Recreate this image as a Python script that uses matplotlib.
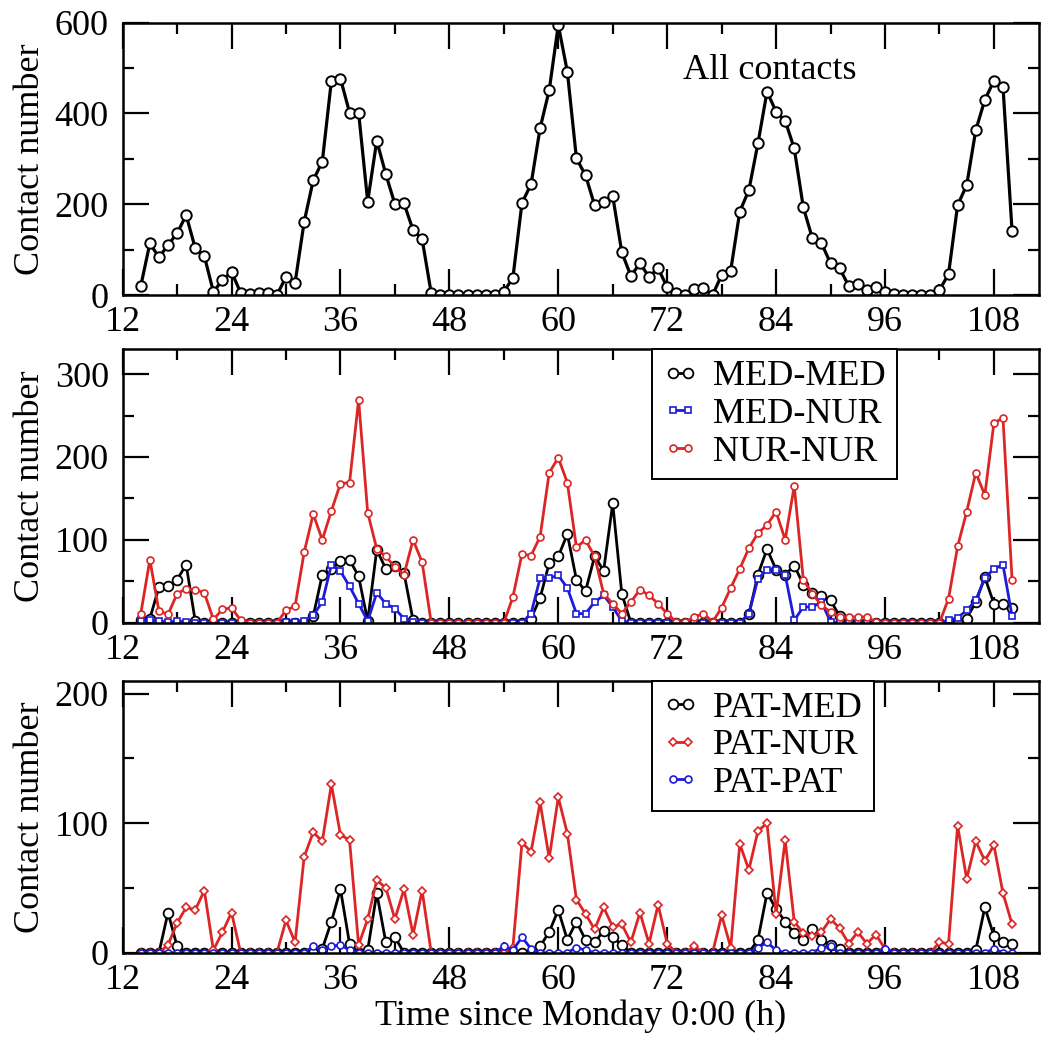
import matplotlib
matplotlib.use('Agg')
import matplotlib.pyplot as plt
from matplotlib.ticker import MultipleLocator

plt.rcParams['font.family'] = ['Liberation Serif', 'DejaVu Serif']
plt.rcParams['font.size'] = 26

# hourly contact counts, hours 14 .. 110
hours = list(range(14, 111))

all_contacts = [20, 114, 83, 110, 136, 176, 103, 86, 7, 33, 51, 5,
                2, 4, 4, 0, 40, 27, 161, 253, 294, 472, 477, 402,
                402, 206, 340, 266, 200, 202, 143, 123, 4, 0, 0, 0,
                0, 0, 0, 0, 7, 38, 203, 244, 368, 451, 595, 492,
                301, 264, 198, 204, 218, 94, 42, 70, 40, 59, 17, 4,
                0, 13, 15, 0, 44, 54, 184, 231, 334, 448, 404, 384,
                323, 193, 125, 114, 70, 59, 20, 24, 10, 17, 7, 2,
                0, 0, 0, 0, 11, 46, 198, 242, 363, 430, 472, 459,
                141]

med_med = [3, 5, 43, 44, 52, 70, 2, 0, 0, 0, 0, 0,
           0, 0, 0, 0, 0, 0, 0, 8, 58, 65, 74, 76,
           56, 2, 88, 65, 68, 60, 3, 0, 0, 0, 0, 0,
           0, 0, 0, 0, 0, 0, 0, 5, 30, 72, 80, 107,
           52, 38, 80, 63, 144, 35, 0, 0, 0, 0, 0, 0,
           0, 0, 0, 0, 0, 0, 0, 10, 58, 89, 64, 58,
           69, 46, 36, 32, 27, 8, 0, 0, 0, 0, 0, 0,
           0, 0, 0, 0, 0, 0, 0, 5, 25, 55, 23, 23,
           18]

med_nur = [2, 3, 2, 1, 2, 1, 0, 0, 1, 0, 0, 0,
           0, 0, 0, 0, 1, 1, 2, 9, 25, 70, 62, 44,
           23, 2, 36, 23, 17, 5, 1, 0, 0, 0, 0, 0,
           0, 0, 0, 0, 0, 0, 0, 11, 54, 54, 57, 42,
           11, 11, 25, 33, 19, 2, 0, 0, 0, 0, 0, 0,
           0, 0, 0, 0, 0, 0, 0, 11, 53, 64, 64, 58,
           3, 19, 19, 25, 1, 0, 0, 0, 0, 0, 0, 0,
           0, 0, 0, 0, 0, 3, 6, 15, 27, 54, 65, 70,
           8]

nur_nur = [11, 76, 14, 10, 35, 41, 40, 36, 4, 16, 18, 3,
           0, 0, 0, 0, 15, 20, 85, 131, 100, 135, 168, 169,
           269, 133, 89, 80, 67, 58, 100, 73, 0, 0, 0, 0,
           0, 0, 0, 0, 0, 31, 83, 81, 104, 181, 199, 169,
           91, 100, 80, 35, 23, 11, 25, 40, 33, 23, 11, 1,
           1, 7, 11, 1, 18, 42, 65, 90, 108, 118, 134, 100,
           165, 52, 35, 21, 13, 7, 7, 7, 7, 1, 0, 0,
           0, 0, 0, 0, 0, 29, 92, 134, 181, 154, 241, 247,
           52]

pat_med = [0, 0, 0, 31, 5, 0, 0, 0, 0, 0, 0, 0,
           0, 0, 0, 0, 0, 0, 0, 0, 3, 24, 49, 7,
           0, 2, 46, 8, 12, 0, 0, 0, 0, 0, 0, 0,
           0, 0, 0, 0, 0, 0, 0, 0, 5, 16, 33, 10,
           24, 10, 8, 17, 12, 6, 0, 0, 0, 0, 0, 0,
           0, 0, 0, 0, 0, 0, 0, 0, 10, 46, 34, 24,
           15, 10, 18, 10, 6, 3, 0, 0, 0, 0, 0, 0,
           0, 0, 0, 0, 0, 0, 0, 0, 2, 35, 13, 8,
           7]

pat_nur = [0, 0, 0, 6, 23, 35, 33, 48, 2, 16, 31, 0,
           0, 0, 0, 0, 25, 8, 74, 93, 86, 130, 91, 87,
           6, 26, 56, 50, 26, 49, 14, 48, 0, 0, 0, 0,
           0, 0, 0, 0, 0, 4, 85, 78, 116, 73, 120, 92,
           41, 30, 18, 35, 20, 22, 8, 31, 7, 37, 7, 0,
           0, 5, 0, 0, 29, 4, 84, 64, 94, 100, 30, 87,
           24, 15, 13, 16, 26, 19, 7, 16, 7, 14, 3, 0,
           0, 0, 0, 0, 8, 7, 98, 57, 86, 71, 83, 46,
           22]

pat_pat = [0, 0, 0, 0, 0, 0, 0, 0, 0, 0, 0, 0,
           0, 0, 0, 0, 0, 0, 0, 5, 2, 5, 6, 2,
           0, 0, 0, 0, 0, 0, 0, 0, 0, 0, 0, 0,
           0, 0, 0, 0, 5, 2, 12, 3, 0, 0, 0, 0,
           4, 2, 0, 0, 0, 0, 0, 0, 0, 0, 0, 0,
           0, 0, 0, 0, 0, 0, 0, 0, 4, 8, 2, 0,
           0, 0, 0, 4, 5, 0, 0, 0, 0, 0, 3, 0,
           0, 0, 0, 0, 0, 0, 0, 0, 0, 0, 3, 0,
           0]

RED = '#dc2626'
BLUE = '#1c1cd8'

fig = plt.figure(figsize=(10.5, 10.41), dpi=100)
left, width = 0.1168, 0.873
ax_top = fig.add_axes([left, 0.7166, width, 0.2616])
ax_mid = fig.add_axes([left, 0.4018, width, 0.2627])
ax_bot = fig.add_axes([left, 0.0848, width, 0.2613])


def style(ax, ymax, ymajor, yminor):
    ax.set_xlim(12, 113)
    ax.set_ylim(0, ymax)
    ax.xaxis.set_major_locator(MultipleLocator(12))
    ax.xaxis.set_minor_locator(MultipleLocator(6))
    ax.yaxis.set_major_locator(MultipleLocator(ymajor))
    ax.yaxis.set_minor_locator(MultipleLocator(yminor))
    ax.tick_params(which='both', direction='in', top=True, right=True, width=1.6)
    ax.tick_params(which='major', length=19)
    ax.tick_params(which='minor', length=8)
    ax.tick_params(axis='x', pad=8)
    ax.tick_params(axis='y', pad=10)
    for s in ax.spines.values():
        s.set_linewidth(1.8)
    ax.set_ylabel('Contact number')
    ax.yaxis.set_label_coords(-0.083, 0.5)


# all contacts
ax_top.plot(hours, all_contacts, color='black', lw=2.3, marker='o', ms=7.5,
            mfc='white', mec='black', mew=1.4)
ax_top.text(0.706, 0.826, 'All contacts', transform=ax_top.transAxes,
            ha='center', va='center')
style(ax_top, 600, 200, 100)

# staff-staff contacts
ax_mid.plot(hours, med_med, color='black', lw=2.0, marker='o', ms=7,
            mfc='white', mec='black', mew=1.3, label='MED-MED')
ax_mid.plot(hours, med_nur, color=BLUE, lw=2.0, marker='s', ms=4,
            mfc='white', mec=BLUE, mew=1.2, label='MED-NUR')
ax_mid.plot(hours, nur_nur, color=RED, lw=2.0, marker='o', ms=5,
            mfc='white', mec=RED, mew=1.2, label='NUR-NUR')
style(ax_mid, 330, 100, 50)

# patient contacts
ax_bot.plot(hours, pat_med, color='black', lw=2.0, marker='o', ms=7,
            mfc='white', mec='black', mew=1.3, label='PAT-MED')
ax_bot.plot(hours, pat_nur, color=RED, lw=2.0, marker='D', ms=4.5,
            mfc='white', mec=RED, mew=1.2, label='PAT-NUR')
ax_bot.plot(hours, pat_pat, color=BLUE, lw=2.0, marker='o', ms=5,
            mfc='white', mec=BLUE, mew=1.2, label='PAT-PAT')
style(ax_bot, 210, 100, 50)
ax_bot.set_xlabel('Time since Monday 0:00 (h)', labelpad=2)

for ax in (ax_mid, ax_bot):
    leg = ax.legend(loc='upper left', bbox_to_anchor=(0.577, 1.0), borderaxespad=0,
                    fancybox=False, edgecolor='black', framealpha=1,
                    handlelength=1.0, handletextpad=0.4, labelspacing=0.12,
                    borderpad=0.3, numpoints=2)
    leg.get_frame().set_linewidth(1.4)

fig.savefig('out.png', dpi=100)
